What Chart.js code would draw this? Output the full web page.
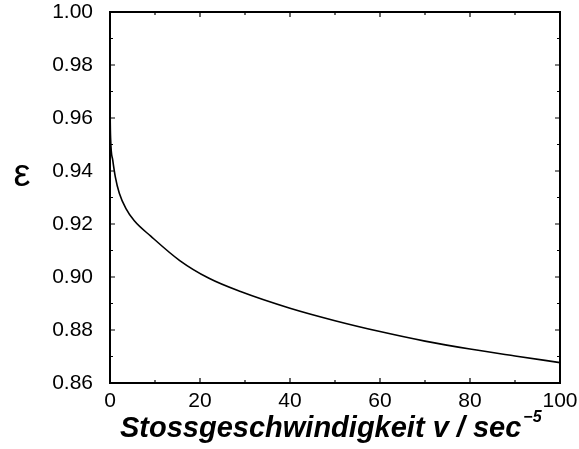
<!DOCTYPE html>
<html>
<head>
<meta charset="utf-8">
<script src="https://cdn.jsdelivr.net/npm/chart.js@4/dist/chart.umd.min.js"></script>
<style>
    html, body { margin: 0; padding: 0; background: #fff; }
    canvas { display: block; }
</style>
</head>
<body>
<canvas id="chart-eps" width="579" height="449"></canvas>
<script>
// ── Données ────────────────────────────────────────────────────────────
const vel = [0, 0.04, 0.15, 0.6, 1.18, 2.07, 3.55, 5.4, 9, 15.5, 22, 29, 40, 50, 60, 70, 80, 90, 100]
const eps = [0.978, 0.962, 0.9517, 0.9442, 0.9378, 0.9316, 0.9258, 0.9212, 0.9155, 0.9062, 0.8995, 0.8945, 0.8882, 0.8835, 0.8794, 0.8758, 0.8728, 0.8702, 0.8677]

const xTicks = [0, 20, 40, 60, 80, 100]
const yTicks = [0.86, 0.88, 0.90, 0.92, 0.94, 0.96, 0.98, 1.00]
const xMinor = [10, 30, 50, 70, 90]
const yMinor = [0.87, 0.89, 0.91, 0.93, 0.95, 0.97, 0.99]

const xTitle = 'Stossgeschwindigkeit v / sec'
const xTitleSup = '\u22125'
const yTitle = 'ε'

const FONT = "'Liberation Sans', Arial, sans-serif"

// ── Cadre + graduations intérieures + titres ──────────────────────────
const framePlugin = {
    id: 'frame',
    afterDraw(chart) {
        const { ctx, chartArea: a, scales: { x, y } } = chart
        ctx.save()
        ctx.strokeStyle = '#000'
        ctx.lineWidth = 2
        ctx.strokeRect(a.left, a.top, a.right - a.left, a.bottom - a.top)

        ctx.lineWidth = 1.2
        ctx.beginPath()
        const tickX = (v, len) => {
            const px = x.getPixelForValue(v)
            ctx.moveTo(px, a.bottom); ctx.lineTo(px, a.bottom - len)
            ctx.moveTo(px, a.top);    ctx.lineTo(px, a.top + len)
        }
        const tickY = (v, len) => {
            const py = y.getPixelForValue(v)
            ctx.moveTo(a.left, py);  ctx.lineTo(a.left + len, py)
            ctx.moveTo(a.right, py); ctx.lineTo(a.right - len, py)
        }
        xTicks.forEach(v => tickX(v, 5))
        xMinor.forEach(v => tickX(v, 3))
        yTicks.forEach(v => tickY(v, 5))
        yMinor.forEach(v => tickY(v, 3))
        ctx.stroke()

        // ε
        ctx.fillStyle = '#000'
        ctx.font = `38px ${FONT}`
        ctx.textAlign = 'center'
        ctx.textBaseline = 'middle'
        ctx.fillText(yTitle, 22, 176)

        // titre x avec exposant
        ctx.textBaseline = 'alphabetic'
        ctx.textAlign = 'left'
        ctx.font = `italic bold 29px ${FONT}`
        const w = ctx.measureText(xTitle).width
        const x0 = 120
        ctx.fillText(xTitle, x0, 437)
        ctx.font = `italic bold 16px ${FONT}`
        ctx.fillText(xTitleSup, x0 + w + 2, 422)
        ctx.restore()
    }
}

new Chart(document.getElementById('chart-eps'), {
    type: 'line',
    data: {
        datasets: [{
            data: vel.map((v, i) => ({ x: v, y: eps[i] })),
            borderColor: '#000',
            borderWidth: 1.6,
            pointRadius: 0,
            cubicInterpolationMode: 'monotone',
            fill: false,
        }]
    },
    options: {
        responsive: false,
        animation: false,
        layout: { padding: { top: 12, right: 19, left: 0, bottom: 0 } },
        plugins: { legend: { display: false }, tooltip: { enabled: false } },
        scales: {
            x: {
                type: 'linear', min: 0, max: 100,
                afterFit: s => { s.height = 66; s.paddingLeft = 0; s.paddingRight = 0 },
                afterBuildTicks: s => { s.ticks = xTicks.map(v => ({ value: v })) },
                grid: { display: false, drawTicks: false },
                border: { display: false },
                ticks: { color: '#000', padding: 6, font: { family: FONT, size: 21 }, maxRotation: 0 },
            },
            y: {
                type: 'linear', min: 0.86, max: 1.0,
                afterFit: s => { s.width = 110; s.paddingTop = 0; s.paddingBottom = 0 },
                afterBuildTicks: s => { s.ticks = yTicks.map(v => ({ value: v })) },
                grid: { display: false, drawTicks: false },
                border: { display: false },
                ticks: { color: '#000', padding: 17, font: { family: FONT, size: 21 }, callback: v => v.toFixed(2) },
            }
        }
    },
    plugins: [framePlugin]
})
</script>
</body>
</html>
